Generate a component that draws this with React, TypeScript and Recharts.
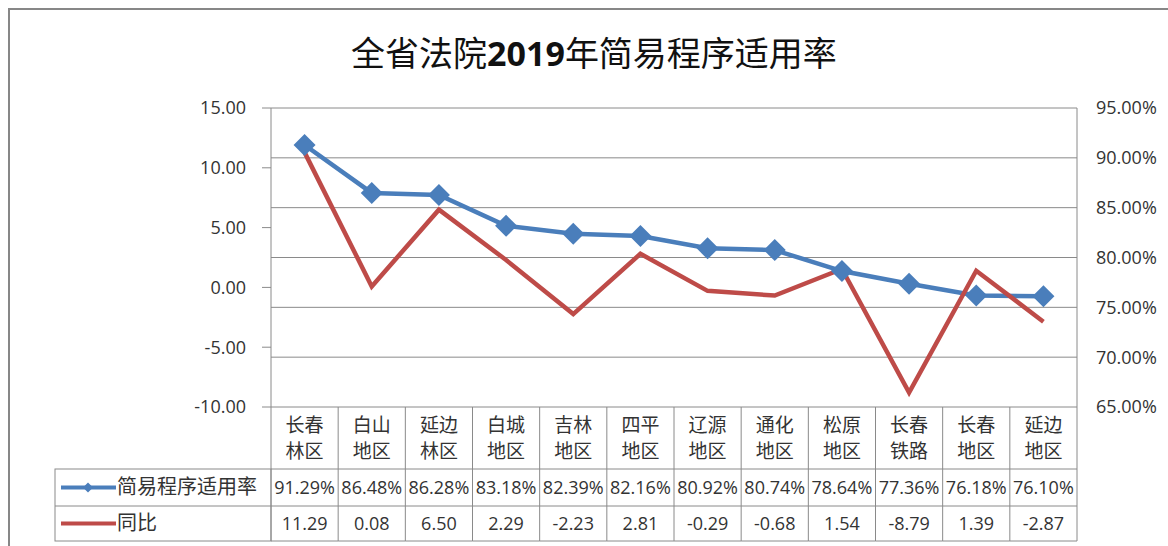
import { LineChart, Line, XAxis, YAxis, CartesianGrid } from 'recharts'

// 各地区
const categories = [
  '长春林区', '白山地区', '延边林区', '白城地区', '吉林地区', '四平地区',
  '辽源地区', '通化地区', '松原地区', '长春铁路', '长春地区', '延边地区',
]
// 简易程序适用率 (%)
const rate = [91.29, 86.48, 86.28, 83.18, 82.39, 82.16, 80.92, 80.74, 78.64, 77.36, 76.18, 76.10]
// 同比
const yoy = [11.29, 0.08, 6.5, 2.29, -2.23, 2.81, -0.29, -0.68, 1.54, -8.79, 1.39, -2.87]

const leftTicks = [15, 10, 5, 0, -5, -10]
const rightTicks = [95, 90, 85, 80, 75, 70, 65]

const rows = categories.map((name, i) => ({ name, rate: rate[i], yoy: yoy[i] }))

const W = 1168
const H = 546
const PLOT_L = 271
const PLOT_R = 1077
const PLOT_T = 108
const PLOT_B = 407
const CELL = (PLOT_R - PLOT_L) / categories.length
const ROW1 = 469
const ROW2 = 506
const ROW3 = 541
const LEGEND_L = 55

const BLUE = '#4a7ebb'
const RED = '#be4b48'
const LINE_GRAY = '#8a8a8a'
const TEXT = '#333'
const CJK = '"Noto Sans CJK SC", "Noto Sans", sans-serif'
const NUM = '"Open Sans", "Noto Sans", sans-serif'

function Diamond({ cx, cy, r, fill }: { cx: number; cy: number; r: number; fill: string }) {
  return <polygon points={`${cx},${cy - r} ${cx + r},${cy} ${cx},${cy + r} ${cx - r},${cy}`} fill={fill} />
}

function TableTick(props: any) {
  const { x, index } = props
  const l = x - CELL / 2
  const r = x + CELL / 2
  const name: string = categories[index]
  const isLast = index === categories.length - 1
  return (
    <g>
      <line x1={l} y1={PLOT_B} x2={l} y2={ROW3} stroke={LINE_GRAY} />
      {isLast && <line x1={r} y1={PLOT_B} x2={r} y2={ROW3} stroke={LINE_GRAY} />}
      <line x1={l} y1={ROW1} x2={r} y2={ROW1} stroke={LINE_GRAY} />
      <line x1={l} y1={ROW2} x2={r} y2={ROW2} stroke={LINE_GRAY} />
      <line x1={l} y1={ROW3} x2={r} y2={ROW3} stroke={LINE_GRAY} />
      <text x={x} y={PLOT_B + 25} textAnchor="middle" fontSize={19} fontFamily={CJK} fill={TEXT}>
        {name.slice(0, 2)}
      </text>
      <text x={x} y={PLOT_B + 51} textAnchor="middle" fontSize={19} fontFamily={CJK} fill={TEXT}>
        {name.slice(2)}
      </text>
      <text x={x} y={ROW1 + 25} textAnchor="middle" fontSize={18} fontFamily={NUM} fill={TEXT}>
        {rate[index].toFixed(2)}%
      </text>
      <text x={x} y={ROW2 + 24} textAnchor="middle" fontSize={18} fontFamily={NUM} fill={TEXT}>
        {yoy[index].toFixed(2)}
      </text>
      {index === 0 && (
        <g>
          <rect x={LEGEND_L} y={ROW1} width={PLOT_L - LEGEND_L} height={ROW3 - ROW1} fill="none" stroke={LINE_GRAY} />
          <line x1={LEGEND_L} y1={ROW2} x2={PLOT_L} y2={ROW2} stroke={LINE_GRAY} />
          <line x1={61} y1={(ROW1 + ROW2) / 2} x2={116} y2={(ROW1 + ROW2) / 2} stroke={BLUE} strokeWidth={4} />
          <Diamond cx={88} cy={(ROW1 + ROW2) / 2} r={5} fill={BLUE} />
          <text x={117} y={ROW1 + 25} fontSize={20} fontFamily={CJK} fill={TEXT}>简易程序适用率</text>
          <line x1={61} y1={(ROW2 + ROW3) / 2} x2={116} y2={(ROW2 + ROW3) / 2} stroke={RED} strokeWidth={4} />
          <text x={117} y={ROW2 + 24} fontSize={20} fontFamily={CJK} fill={TEXT}>同比</text>
        </g>
      )}
    </g>
  )
}

export default function App() {
  return (
    <div style={{ position: 'absolute', left: 0, top: 0, width: W, height: H, background: '#fff', overflow: 'hidden' }}>
      <div style={{ position: 'absolute', left: 8, top: 8, width: 1300, height: 700, border: '2px solid #878787' }} />
      <div
        style={{
          position: 'absolute', left: 10, top: 32, width: W, textAlign: 'center',
          fontSize: 34, lineHeight: '40px', fontFamily: CJK, color: '#111',
        }}
      >
        全省法院<span style={{ fontFamily: NUM, fontWeight: 700 }}>2019</span>年简易程序适用率
      </div>
      <div style={{ position: 'absolute', left: 0, top: 0 }}>
        <LineChart width={W} height={H} data={rows} margin={{ top: PLOT_T, right: 0, bottom: 0, left: 0 }}>
          <CartesianGrid yAxisId="right" vertical={false} stroke={LINE_GRAY} />
          <XAxis
            dataKey="name"
            height={H - PLOT_B}
            interval={0}
            axisLine={false}
            tickLine={false}
            padding={{ left: CELL / 2, right: CELL / 2 }}
            tick={(p: any) => <TableTick {...p} />}
          />
          <YAxis
            yAxisId="left"
            width={PLOT_L}
            domain={[-10, 15]}
            ticks={leftTicks}
            interval={0}
            tickFormatter={(v: number) => v.toFixed(2)}
            axisLine={{ stroke: LINE_GRAY }}
            tickLine={{ stroke: LINE_GRAY }}
            tickSize={9}
            tickMargin={16}
            tick={{ fill: TEXT, fontSize: 18, fontFamily: NUM }}
          />
          <YAxis
            yAxisId="right"
            orientation="right"
            width={W - PLOT_R}
            domain={[65, 95]}
            ticks={rightTicks}
            interval={0}
            tickFormatter={(v: number) => `${v.toFixed(2)}%`}
            axisLine={{ stroke: LINE_GRAY }}
            tickLine={false}
            tickSize={0}
            tickMargin={19}
            tick={{ fill: TEXT, fontSize: 18, fontFamily: NUM }}
          />
          <Line
            yAxisId="right"
            dataKey="rate"
            stroke={BLUE}
            strokeWidth={4.5}
            isAnimationActive={false}
            dot={(p: any) => <Diamond key={p.index} cx={p.cx} cy={p.cy} r={11} fill={BLUE} />}
            activeDot={false}
          />
          <Line
            yAxisId="left"
            dataKey="yoy"
            stroke={RED}
            strokeWidth={4.5}
            isAnimationActive={false}
            dot={false}
            activeDot={false}
          />
        </LineChart>
      </div>
    </div>
  )
}
